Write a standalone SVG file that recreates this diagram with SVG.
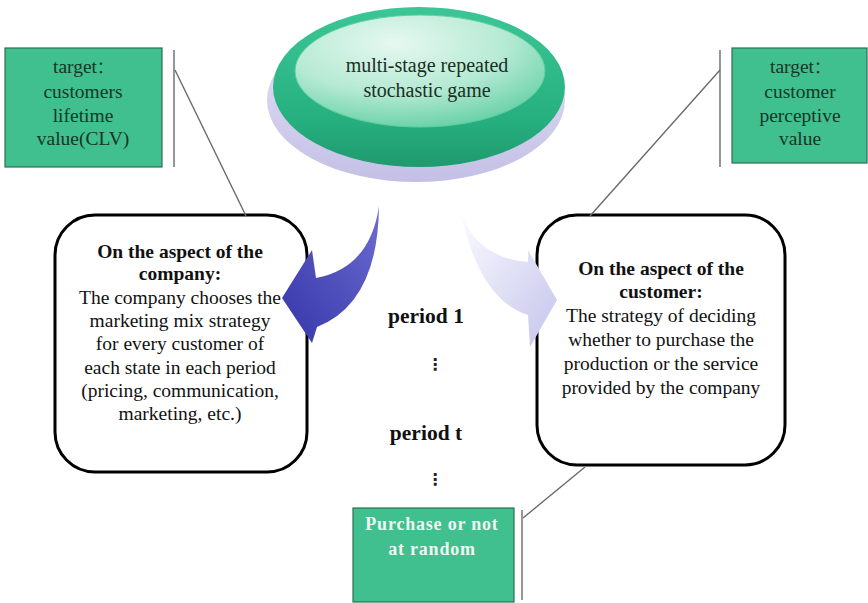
<svg xmlns="http://www.w3.org/2000/svg" width="868" height="603" viewBox="0 0 868 603">
  <defs>
    <style>
      .serif { font-family: "Liberation Serif", "Times New Roman", serif; }
      .tbox { fill: #40bf8f; stroke: #2d6e55; stroke-width: 1.2; }
      .tlabel { font-size: 19.5px; fill: #173626; text-anchor: middle; }
      .rbox { fill: #ffffff; stroke: #000000; stroke-width: 3; }
      .body { font-size: 19.5px; fill: #111111; text-anchor: middle; }
      .bold { font-weight: bold; }
      .lead { stroke: #6a6a6a; stroke-width: 1.4; fill: none; }
      .period { font-size: 21.5px; font-weight: bold; fill: #111111; text-anchor: middle; }
      .dots { font-family: "DejaVu Sans", sans-serif; font-size: 16px; font-weight: bold; fill: #222222; text-anchor: middle; }
    </style>
    <linearGradient id="baseGrad" x1="0" y1="0" x2="0" y2="1">
      <stop offset="0" stop-color="#e6e4f7"/>
      <stop offset="1" stop-color="#c4c0e6"/>
    </linearGradient>
    <linearGradient id="rimGrad" x1="0" y1="0" x2="0" y2="1">
      <stop offset="0" stop-color="#3cc596"/>
      <stop offset="0.7" stop-color="#27b07f"/>
      <stop offset="1" stop-color="#1f9a6e"/>
    </linearGradient>
    <radialGradient id="capGrad" cx="0.4" cy="0.25" r="0.8">
      <stop offset="0" stop-color="#e6f8f0"/>
      <stop offset="0.55" stop-color="#b6ead4"/>
      <stop offset="1" stop-color="#62cfa4"/>
    </radialGradient>
    <linearGradient id="blueArrow" x1="1" y1="0" x2="0" y2="1">
      <stop offset="0" stop-color="#6c6cd2"/>
      <stop offset="1" stop-color="#3535a8"/>
    </linearGradient>
    <linearGradient id="paleArrow" x1="0" y1="0" x2="1" y2="1">
      <stop offset="0" stop-color="#fbfbff"/>
      <stop offset="1" stop-color="#c4c4ec"/>
    </linearGradient>
  </defs>

  <!-- central game node -->
  <g id="game">
    <ellipse cx="416" cy="100" rx="149" ry="82" fill="url(#baseGrad)"/>
    <ellipse cx="419" cy="87" rx="146" ry="80" fill="url(#rimGrad)"/>
    <ellipse cx="420" cy="71" rx="125" ry="56" fill="url(#capGrad)" stroke="#5fcfa3" stroke-width="1"/>
    <text class="serif" font-size="20" fill="#1b2e25" text-anchor="middle" x="427" y="72">multi-stage repeated</text>
    <text class="serif" font-size="20" fill="#1b2e25" text-anchor="middle" x="427" y="97">stochastic game</text>
  </g>

  <g id="target-company">
    <rect class="tbox" x="5" y="48" width="157" height="119"/>
    <text class="serif tlabel" x="83" y="73">target<tspan font-family="'Noto Sans CJK SC', sans-serif" font-size="16">：</tspan></text>
    <text class="serif tlabel" x="83" y="98">customers</text>
    <text class="serif tlabel" x="83" y="122">lifetime</text>
    <text class="serif tlabel" x="83" y="145">value(CLV)</text>
  </g>

  <g id="target-customer">
    <rect class="tbox" x="732" y="48" width="135" height="115"/>
    <text class="serif tlabel" x="800" y="73">target<tspan font-family="'Noto Sans CJK SC', sans-serif" font-size="16">：</tspan></text>
    <text class="serif tlabel" x="800" y="98">customer</text>
    <text class="serif tlabel" x="800" y="122">perceptive</text>
    <text class="serif tlabel" x="800" y="145">value</text>
  </g>

  <g id="company">
    <rect class="rbox" x="55" y="215" width="252" height="257" rx="40" ry="40"/>
    <text class="serif body bold" x="180" y="258">On the aspect of the</text>
    <text class="serif body bold" x="180" y="280">company:</text>
    <text class="serif body" x="180" y="304">The company chooses the</text>
    <text class="serif body" x="180" y="327">marketing mix strategy</text>
    <text class="serif body" x="180" y="350">for every customer of</text>
    <text class="serif body" x="180" y="374">each state in each period</text>
    <text class="serif body" x="180" y="397">(pricing, communication,</text>
    <text class="serif body" x="180" y="420">marketing, etc.)</text>
  </g>

  <g id="customer">
    <rect class="rbox" x="537" y="215" width="248" height="250" rx="40" ry="40"/>
    <text class="serif body bold" x="661" y="275">On the aspect of the</text>
    <text class="serif body bold" x="661" y="298">customer:</text>
    <text class="serif body" x="661" y="322">The strategy of deciding</text>
    <text class="serif body" x="661" y="346">whether to purchase the</text>
    <text class="serif body" x="661" y="370">production or the service</text>
    <text class="serif body" x="661" y="394">provided by the company</text>
  </g>

  <g id="periods">
    <text class="serif period" x="426" y="323">period 1</text>
    <text class="dots" x="435" y="370">⋮</text>
    <text class="serif period" x="426" y="440">period t</text>
    <text class="dots" x="435" y="485">⋮</text>
  </g>

  <g id="random-purchase">
    <rect class="tbox" x="353" y="508" width="161" height="94"/>
    <text class="serif bold" font-size="18" letter-spacing="0.8" fill="#eef8f2" text-anchor="middle" x="432" y="530">Purchase or not</text>
    <text class="serif bold" font-size="18" letter-spacing="0.8" fill="#eef8f2" text-anchor="middle" x="432" y="555">at random</text>
  </g>

  <!-- leader lines and curved arrows, drawn over the boxes -->
  <g id="connectors">
    <line class="lead" x1="174" y1="50" x2="174" y2="167"/>
    <line class="lead" x1="175" y1="70" x2="246" y2="216"/>
    <line class="lead" x1="720" y1="50" x2="720" y2="167"/>
    <line class="lead" x1="720" y1="70" x2="590" y2="216"/>
    <line class="lead" x1="522" y1="510" x2="522" y2="600"/>
    <line class="lead" x1="523" y1="518" x2="585" y2="467"/>
    <path id="arrow-company" fill="url(#blueArrow)"
          d="M 379,206 Q 370,268 316,278 L 312,250 L 282,298 L 312,343 L 317,327 Q 378,303 379,206 Z"/>
    <path id="arrow-customer" fill="url(#paleArrow)"
          d="M 461,214 Q 478,258 528,262 L 528,250 L 557,300 L 530,347 L 528,315 Q 480,300 461,214 Z"/>
  </g>
</svg>
